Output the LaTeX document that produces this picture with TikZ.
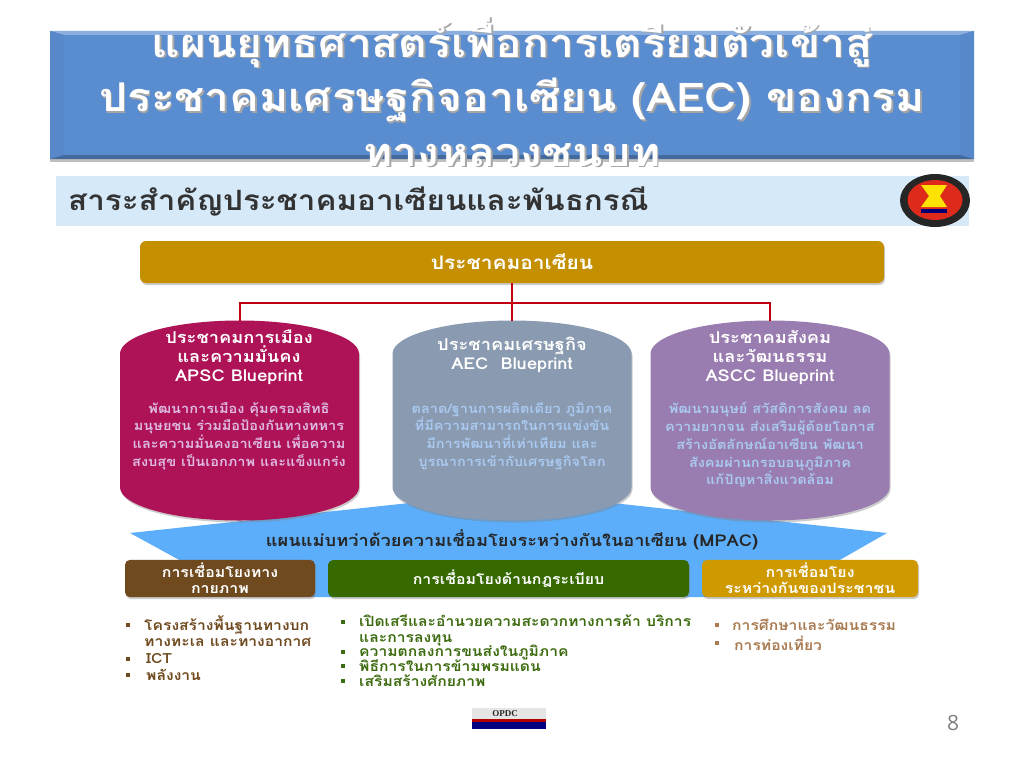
\documentclass[tikz,border=0pt]{standalone}
\usepackage{fontspec}
\setmainfont[Script=Thai,FakeStretch=1.12]{Loma}
\newfontfamily\opdcfont{Liberation Serif}
\newfontfamily\pagefont{Open Sans}
\usetikzlibrary{shapes.geometric,shadows}

\definecolor{barblue}{HTML}{5A8CD0}
\definecolor{bandblue}{HTML}{D5E9F9}
\definecolor{mpacblue}{HTML}{5CAEFB}
\definecolor{hubgold}{HTML}{C48F00}
\definecolor{polred}{HTML}{AE1257}
\definecolor{cengrey}{HTML}{8A9AB0}
\definecolor{socpurple}{HTML}{9A7DB0}
\definecolor{linkbrown}{HTML}{6F4A1E}
\definecolor{linkgreen}{HTML}{366A00}
\definecolor{linkgold}{HTML}{CE9A00}
\definecolor{linered}{HTML}{C00010}
\definecolor{listgreen}{HTML}{3D6B0F}
\definecolor{listtan}{HTML}{A87A50}
\definecolor{logored}{HTML}{DD2A1B}
\definecolor{polbodytext}{HTML}{DDBBE2}
\definecolor{bodyblue}{HTML}{A9C9F0}

\newcommand{\shadowline}[1]{\rlap{\hspace{1.5pt}\raisebox{-1.5pt}{\textcolor{black!35}{#1}}}#1}

\tikzstyle{softshadow} = [drop shadow={shadow xshift=1pt,shadow yshift=-2pt,opacity=0.4}]
\tikzstyle{titletext} = [text=white,align=center,font=\fontsize{39.6}{54.5}\selectfont\bfseries]
\tikzstyle{hubbox} = [rectangle,rounded corners=6pt,fill=hubgold,softshadow,minimum width=744pt,minimum height=42pt,text=white,font=\fontsize{18.7}{22}\selectfont\bfseries]
\tikzstyle{pillar} = [cylinder,shape border rotate=90,shape aspect=10,minimum width=239pt,minimum height=200pt,anchor=shape center,outer sep=0pt,softshadow]
\tikzstyle{pillarhead} = [text=white,align=center,font=\fontsize{16.3}{19}\selectfont\bfseries]
\tikzstyle{pillarbody} = [align=center,font=\fontsize{13}{17.8}\selectfont\bfseries]
\tikzstyle{linkbox} = [rectangle,rounded corners=5pt,softshadow,minimum height=37pt,text=white,align=center,font=\fontsize{14.2}{16}\selectfont\bfseries]
\tikzstyle{connector} = [linered,line width=2pt]
\tikzstyle{listtext} = [anchor=west,align=left,inner sep=0pt,font=\fontsize{14}{16}\selectfont\bfseries]
\tikzstyle{listdot} = [rectangle,minimum size=3.5pt,inner sep=0pt]

\begin{document}
\begin{tikzpicture}[x=1pt,y=-1pt]
	\useasboundingbox (0,0) rectangle (1024,768);
	\fill[white] (0,0) rectangle (1024,768);

	\fill[barblue,drop shadow={shadow xshift=0pt,shadow yshift=-3pt,opacity=0.5}] (50,31) rectangle (974,159);
	\fill[barblue!70!white] (50,31) -- (974,31) -- (960,35) -- (64,35) -- cycle;
	\fill[barblue!97!black] (50,31) -- (64,35) -- (64,155) -- (50,159) -- cycle;
	\fill[barblue!97!black] (974,31) -- (960,35) -- (960,155) -- (974,159) -- cycle;
	\fill[barblue!75!black] (50,159) -- (64,155) -- (960,155) -- (974,159) -- cycle;
	\node[titletext] (title) at (512,92) {\shadowline{แผนยุทธศาสตร์เพื่อการเตรียมตัวเข้าสู่}\\\shadowline{ประชาคมเศรษฐกิจอาเซียน (AEC) ของกรม}\\\shadowline{ทางหลวงชนบท}};

	\fill[bandblue] (56,176) rectangle (969,226);
	\node[anchor=west,inner sep=0pt,text=black!80,font=\fontsize{28}{32}\selectfont\bfseries] (theme) at (68,201) {สาระสำคัญประชาคมอาเซียนและพันธกรณี};

	\fill[black!85] (935,200.5) ellipse (35 and 26.5);
	\fill[logored] (935,200) ellipse (27.5 and 20);
	\fill[yellow!85!orange] (921,185) -- (947,185) -- (940,196) -- (947,207) -- (921,207) -- (929,196) -- cycle;
	\fill[blue!45!black] (921,209) rectangle (947,212.5);

	\node[hubbox] (hub) at (512,262) {ประชาคมอาเซียน};

	\fill[mpacblue] (130,533) -- (512,492) -- (887,533) -- (775,597) -- (247,597) -- cycle;

	\node[pillar,fill=polred] (pol) at (239.5,420.5) {};
	\node[pillar,fill=cengrey] (cen) at (512,420.5) {};
	\node[pillar,fill=socpurple] (soc) at (770,420.5) {};

	\coordinate (split) at (512,303);
	\draw[connector] (hub) -- (cen.top);
	\draw[connector] (pol.top) |- (split) -| (soc.top);

	\node[pillarhead] (polhead) at (239,357) {ประชาคมการเมือง\\และความมั่นคง\\APSC Blueprint};
	\node[pillarbody,text=polbodytext] (polbody) at (239,436) {พัฒนาการเมือง คุ้มครองสิทธิ\\มนุษยชน ร่วมมือป้องกันทางทหาร\\และความมั่นคงอาเซียน เพื่อความ\\สงบสุข เป็นเอกภาพ และแข็งแกร่ง};
	\node[pillarhead] (cenhead) at (512,355) {ประชาคมเศรษฐกิจ\\AEC\ \ Blueprint};
	\node[pillarbody,text=bodyblue] (cenbody) at (512,436) {ตลาด/ฐานการผลิตเดียว ภูมิภาค\\ที่มีความสามารถในการแข่งขัน\\มีการพัฒนาที่เท่าเทียม และ\\บูรณาการเข้ากับเศรษฐกิจโลก};
	\node[pillarhead] (sochead) at (770,357) {ประชาคมสังคม\\และวัฒนธรรม\\ASCC Blueprint};
	\node[pillarbody,text=bodyblue] (socbody) at (770,445) {พัฒนามนุษย์ สวัสดิการสังคม ลด\\ความยากจน ส่งเสริมผู้ด้อยโอกาส\\สร้างอัตลักษณ์อาเซียน พัฒนา\\สังคมผ่านกรอบอนุภูมิภาค\\แก้ปัญหาสิ่งแวดล้อม};

	\node[text=black!85,font=\fontsize{16.3}{19}\selectfont\bfseries] (mpac) at (512,540) {แผนแม่บทว่าด้วยความเชื่อมโยงระหว่างกันในอาเซียน (MPAC)};

	\node[linkbox,fill=linkbrown,minimum width=190pt] (phys) at (220,578.5) {การเชื่อมโยงทาง\\กายภาพ};
	\node[linkbox,fill=linkgreen,minimum width=361pt] (rule) at (508.5,578.5) {การเชื่อมโยงด้านกฎระเบียบ};
	\node[linkbox,fill=linkgold,minimum width=216pt] (people) at (810,578.5) {การเชื่อมโยง\\ระหว่างกันของประชาชน};

	\foreach \y in {625,659,675}
		\node[listdot,fill=linkbrown] at (128,\y) {};
	\node[listtext,text=linkbrown] (phys1) at (144,631) {โครงสร้างพื้นฐานทางบก\\ทางทะเล และทางอากาศ};
	\node[listtext,text=linkbrown] (phys2) at (146,659) {ICT};
	\node[listtext,text=linkbrown] (phys3) at (146,675) {พลังงาน};

	\foreach \y in {622,652,666,681}
		\node[listdot,fill=listgreen] at (343,\y) {};
	\node[listtext,text=listgreen] (rule1) at (359,630) {เปิดเสรีและอำนวยความสะดวกทางการค้า บริการ\\และการลงทุน};
	\node[listtext,text=listgreen] (rule2) at (359,652) {ความตกลงการขนส่งในภูมิภาค};
	\node[listtext,text=listgreen] (rule3) at (359,666) {พิธีการในการข้ามพรมแดน};
	\node[listtext,text=listgreen] (rule4) at (359,681) {เสริมสร้างศักยภาพ};

	\foreach \y in {625,643}
		\node[listdot,fill=listtan] at (717,\y) {};
	\node[listtext,text=listtan] (people1) at (732,625) {การศึกษาและวัฒนธรรม};
	\node[listtext,text=listtan] (people2) at (734,643) {การท่องเที่ยว};

	\fill[black!10] (472,708) rectangle (546,719);
	\fill[red!70!black] (472,719) rectangle (546,721.5);
	\fill[blue!50!black] (472,721.5) rectangle (546,729);
	\node[inner sep=0pt,text=black!85,font=\opdcfont\fontsize{9}{10}\selectfont\bfseries] (opdc) at (505,714) {OPDC};

	\node[inner sep=0pt,text=black!50,font=\pagefont\fontsize{21}{24}\selectfont] (pageno) at (953,723) {8};
\end{tikzpicture}
\end{document}
